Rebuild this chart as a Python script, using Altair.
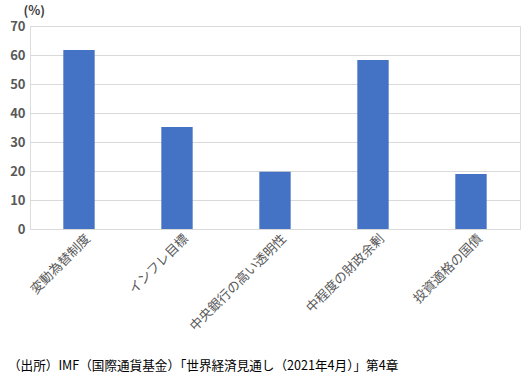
import altair as alt
import pandas as pd

categories = ["変動為替制度", "インフレ目標", "中央銀行の高い透明性", "中程度の財政余剰", "投資適格の国債"]
values = [61.7, 35.2, 19.7, 58.3, 19.0]
source_note = "（出所）IMF（国際通貨基金）「世界経済見通し（2021年4月）」第4章"
y_ticks = [0, 10, 20, 30, 40, 50, 60, 70]

df = pd.DataFrame({"cat": categories, "val": values})
FONT = "Noto Sans CJK JP"

bars = alt.Chart(df).mark_bar(color="#4472C4").encode(
    x=alt.X("cat:N", sort=categories,
            scale=alt.Scale(paddingInner=0.68, paddingOuter=0.34),
            axis=alt.Axis(title=None, labelAngle=-45, labelAlign="right",
                          labelBaseline="top", ticks=False, domain=False,
                          labelFont=FONT, labelFontSize=13, labelColor="#595959",
                          labelPadding=3, labelOffset=5)),
    y=alt.Y("val:Q", scale=alt.Scale(domain=[0, 70]),
            axis=alt.Axis(values=y_ticks, title="(%)", titleAngle=0,
                          titleX=-7, titleY=-16, titleFont=FONT, titleFontSize=12.5,
                          titleFontWeight="bold", titleColor="#404040",
                          titleAlign="left", titleBaseline="middle",
                          labelFont=FONT, labelFontSize=13, labelFontWeight="bold",
                          labelColor="#595959", labelPadding=5,
                          ticks=False, domain=False, gridColor="#D9D9D9")),
)

note = alt.Chart(pd.DataFrame({"t": [source_note]})).mark_text(
    align="left", baseline="middle", font=FONT, fontSize=12.6, color="#000000"
).encode(x=alt.value(-22), y=alt.value(340), text="t:N")

chart = alt.layer(bars, note).properties(
    width=490, height=203,
    autosize=alt.AutoSizeParams(type="none"),
    padding={"left": 30, "top": 26, "right": 3, "bottom": 147},
).configure_view(stroke=None).configure(background="white")

chart.save("out.html", embed_options={"renderer": "svg", "actions": False})
